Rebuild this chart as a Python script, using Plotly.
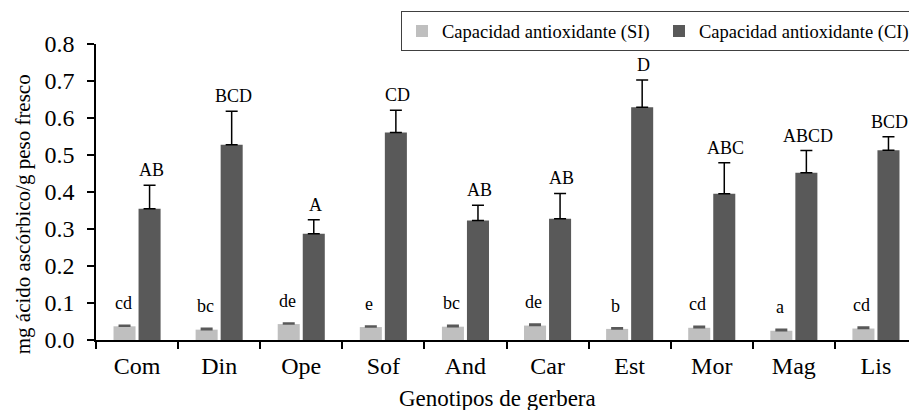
import plotly.graph_objects as go

categories = ["Com", "Din", "Ope", "Sof", "And", "Car", "Est", "Mor", "Mag", "Lis"]
si_values = [0.037, 0.028, 0.043, 0.035, 0.036, 0.039, 0.030, 0.033, 0.025, 0.031]
si_errors = [0.003, 0.004, 0.003, 0.003, 0.004, 0.004, 0.003, 0.004, 0.004, 0.004]
ci_values = [0.355, 0.528, 0.287, 0.561, 0.323, 0.328, 0.629, 0.395, 0.452, 0.513]
ci_errors = [0.063, 0.090, 0.038, 0.060, 0.041, 0.068, 0.074, 0.084, 0.060, 0.036]
si_letters = ["cd", "bc", "de", "e", "bc", "de", "b", "cd", "a", "cd"]
ci_letters = ["AB", "BCD", "A", "CD", "AB", "AB", "D", "ABC", "ABCD", "BCD"]
y_ticks = [0.0, 0.1, 0.2, 0.3, 0.4, 0.5, 0.6, 0.7, 0.8]
x_title = "Genotipos de gerbera"
y_title = "mg ácido ascórbico/g peso fresco"

FONT = "Liberation Serif, Times New Roman, serif"

fig = go.Figure()
fig.add_trace(go.Bar(
    name="Capacidad antioxidante (SI)", x=categories, y=si_values,
    marker=dict(color="#BFBFBF", line=dict(width=0)),
    error_y=dict(type="data", array=si_errors, symmetric=False,
                 arrayminus=[0] * len(si_errors), color="#595959",
                 thickness=1.5, width=6),
))
fig.add_trace(go.Bar(
    name="Capacidad antioxidante (CI)", x=categories, y=ci_values,
    marker=dict(color="#595959", line=dict(width=0)),
    error_y=dict(type="data", array=ci_errors, symmetric=False,
                 arrayminus=[0] * len(ci_errors), color="#000000",
                 thickness=1.5, width=6),
))

annotations = []
for c, v, e, t in zip(categories, si_values, si_errors, si_letters):
    annotations.append(dict(x=c, y=v + e, text=t, xref="x", yref="y",
                            showarrow=False, xshift=-14, yshift=10,
                            yanchor="bottom", font=dict(family=FONT, size=18, color="black")))
for c, v, e, t in zip(categories, ci_values, ci_errors, ci_letters):
    annotations.append(dict(x=c, y=v + e, text=t, xref="x", yref="y",
                            showarrow=False, xshift=14, yshift=3,
                            yanchor="bottom", font=dict(family=FONT, size=18, color="black")))
# axis titles
annotations.append(dict(text=x_title, xref="paper", yref="paper", x=0.4896, y=-0.197,
                        xanchor="center", yanchor="middle", showarrow=False,
                        font=dict(family=FONT, size=23, color="black")))
annotations.append(dict(text=y_title, xref="paper", yref="paper", x=-0.0889, y=0.425,
                        xanchor="center", yanchor="middle", showarrow=False, textangle=-90,
                        font=dict(family=FONT, size=21, color="black")))

fig.update_layout(
    width=909, height=402,
    margin=dict(l=88, r=0, t=36, b=70),
    paper_bgcolor="white", plot_bgcolor="white",
    barmode="group", bargap=0.39, bargroupgap=0.12,
    font=dict(family=FONT, color="black"),
    annotations=annotations,
    legend=dict(orientation="h", x=1.0, xanchor="right", y=1.11, yanchor="top",
                bordercolor="#404040", borderwidth=1, bgcolor="white",
                font=dict(family=FONT, size=18.5, color="black"),
                itemwidth=30, entrywidth=212, entrywidthmode="pixels"),
    xaxis=dict(
        range=[-0.5, 9.5], showline=True, linecolor="black", linewidth=1.5,
        ticks="outside", tickson="boundaries", ticklen=7, tickwidth=1.5, tickcolor="black",
        tickfont=dict(family=FONT, size=24, color="black"), ticklabelstandoff=3,
        showgrid=False, zeroline=False, automargin=False,
    ),
    yaxis=dict(
        range=[0, 0.8], tickvals=y_ticks, tickformat=".1f",
        showline=True, linecolor="black", linewidth=1.5,
        ticks="outside", ticklen=7, tickwidth=1.5, tickcolor="black",
        tickfont=dict(family=FONT, size=24, color="black"),
        ticklabelstandoff=8,
        showgrid=False, zeroline=False, automargin=False,
    ),
)

fig.write_html("out.html")
